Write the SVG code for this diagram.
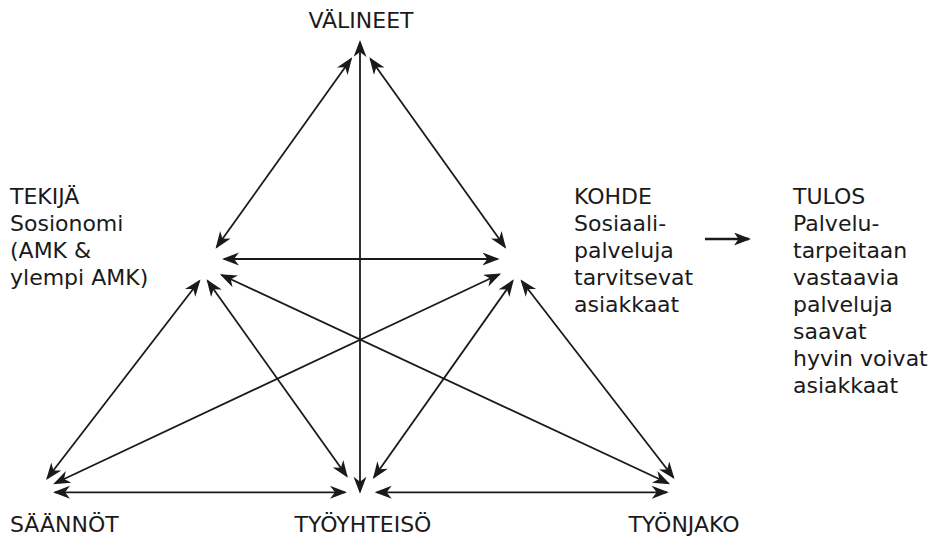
<svg xmlns="http://www.w3.org/2000/svg" width="947" height="538" viewBox="0 0 947 538">
<defs>
<style>
text{font-family:"DejaVu Sans","Liberation Sans",sans-serif;font-size:22px;fill:#1a1a1a}
.c line{stroke:#1a1a1a;stroke-width:1.8;fill:none;marker-end:url(#ah)}
.c line.d{marker-start:url(#ah)}
.c line.r{stroke-width:2.4;marker-end:url(#ah2)}
</style>
<marker id="ah" markerUnits="userSpaceOnUse" markerWidth="19" markerHeight="15" refX="15" refY="6.5" orient="auto-start-reverse" viewBox="0 0 19 15">
<path d="M0,0 L17,6.5 L0,13 L5,6.5 z" fill="#1a1a1a"/>
</marker>
<marker id="ah2" markerUnits="userSpaceOnUse" markerWidth="19" markerHeight="15" refX="15" refY="6.5" orient="auto" viewBox="0 0 19 15">
<path d="M0,0 L17,6.5 L0,13 L4.5,6.5 z" fill="#1a1a1a"/>
</marker>
</defs>
<rect width="947" height="538" fill="#fff"/>
<g id="connectors" class="c">
<line class="d" x1="216.7" y1="247" x2="351" y2="59"/>
<line class="d" x1="505" y1="247" x2="370.5" y2="59"/>
<line class="d" x1="224" y1="259" x2="497.5" y2="259"/>
<line class="d" x1="360" y1="42" x2="360" y2="491.7"/>
<line class="d" x1="199.3" y1="281" x2="47.3" y2="478.3"/>
<line class="d" x1="207.7" y1="281" x2="346.7" y2="476"/>
<line class="d" x1="221.7" y1="275" x2="668.3" y2="483.3"/>
<line class="d" x1="499.3" y1="274.3" x2="55" y2="483.3"/>
<line class="d" x1="512.7" y1="281" x2="374" y2="477.3"/>
<line class="d" x1="521.7" y1="281" x2="673.3" y2="477.3"/>
<line class="d" x1="55" y1="492.3" x2="345" y2="492.3"/>
<line class="d" x1="376.7" y1="492.3" x2="666.7" y2="492.3"/>
<line class="r" x1="705" y1="239" x2="749" y2="239"/>
</g>
<g id="valineet"><text x="361" y="28" text-anchor="middle">VÄLINEET</text></g>
<g id="tekija"><text x="10" y="204">TEKIJÄ</text><text x="10" y="231">Sosionomi</text><text x="10" y="258">(AMK &amp;</text><text x="10" y="285">ylempi AMK)</text></g>
<g id="kohde"><text x="574" y="204">KOHDE</text><text x="574" y="231">Sosiaali-</text><text x="574" y="258">palveluja</text><text x="574" y="285">tarvitsevat</text><text x="574" y="312">asiakkaat</text></g>
<g id="tulos"><text x="793" y="204">TULOS</text><text x="793" y="231">Palvelu-</text><text x="793" y="258">tarpeitaan</text><text x="793" y="285">vastaavia</text><text x="793" y="312">palveluja</text><text x="793" y="339">saavat</text><text x="793" y="366">hyvin voivat</text><text x="793" y="393">asiakkaat</text></g>
<g id="saannot"><text x="10" y="532">SÄÄNNÖT</text></g>
<g id="tyoyhteiso"><text x="363" y="532" text-anchor="middle">TYÖYHTEISÖ</text></g>
<g id="tyonjako"><text x="684" y="532" text-anchor="middle">TYÖNJAKO</text></g>
</svg>
